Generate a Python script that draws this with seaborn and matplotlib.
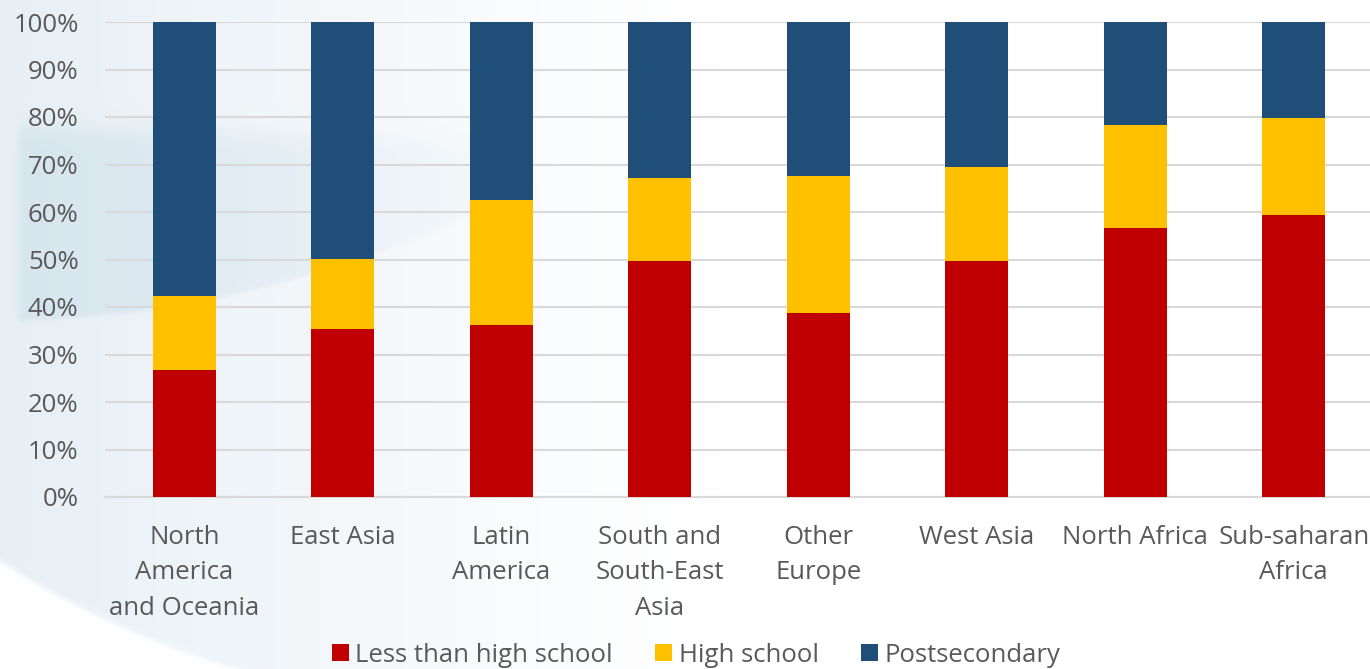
import numpy as np
import pandas as pd
import matplotlib
matplotlib.use("Agg")
import matplotlib.pyplot as plt
from matplotlib.patches import Patch
from matplotlib.ticker import FuncFormatter, MultipleLocator
import seaborn as sns

# Educational attainment shares by region of origin (%)
regions = [
    "North\nAmerica\nand Oceania",
    "East Asia",
    "Latin\nAmerica",
    "South and\nSouth-East\nAsia",
    "Other\nEurope",
    "West Asia",
    "North Africa",
    "Sub-saharan\nAfrica",
]
less_than_hs = [26.7, 35.4, 36.2, 49.7, 38.7, 49.7, 56.6, 59.4]
high_school = [15.6, 14.7, 26.3, 17.5, 28.9, 19.8, 21.7, 20.4]
postsecondary = [57.7, 49.9, 37.5, 32.8, 32.4, 30.5, 21.7, 20.2]

series_names = ["Less than high school", "High school", "Postsecondary"]
colors = ["#C00000", "#FFC000", "#1F4E79"]
text_color = "#595959"
FS = 18.5

df = pd.DataFrame({
    "region": regions,
    "less": less_than_hs,
    "hs": high_school,
    "post": postsecondary,
})
df["cum_less"] = df["less"]
df["cum_hs"] = df["less"] + df["hs"]
df["cum_post"] = df["less"] + df["hs"] + df["post"]

sns.set_theme(style="white")
plt.rcParams["font.family"] = ["Open Sans", "DejaVu Sans"]

W, H = 1370, 669
fig = plt.figure(figsize=(W / 100, H / 100), dpi=100)
fig.patch.set_facecolor("white")

# Soft decorative wash on the left side of the slide background
yy, xx = np.mgrid[0:H, 0:W].astype(float)
img = np.ones((H, W, 3))

def blend(img, rgb, alpha):
    c = np.array(rgb) / 255.0
    a = alpha[..., None]
    return img * (1 - a) + c * a

def soft(v, width):
    return 1 / (1 + np.exp(-v / width))

dist = np.sqrt((xx - 501) ** 2 + (yy + 225) ** 2)
wash_alpha = np.clip(1 - xx / 720, 0, 1) ** 1.2 * soft(932 - dist, 1.5)
img = blend(img, (231, 239, 245), wash_alpha)

y_top = 125 + 0.03 * xx
y_bot = 320 - 0.00048 * xx ** 2
band_alpha = (np.clip(1 - xx / 560, 0, 1) ** 1.1
              * soft(yy - y_top, 6) * soft(y_bot - yy, 1.5) * soft(xx - 18, 2))
img = blend(img, (214, 229, 238), band_alpha)

fig.figimage(img, xo=0, yo=0, origin="upper", zorder=-10)

ax = fig.add_axes([105 / W, 1 - 497 / H, (1373 - 105) / W, (497 - 22) / H])
ax.set_facecolor("none")

# Stacked bars drawn as cumulative totals, tallest first
for col, c in zip(["cum_post", "cum_hs", "cum_less"], colors[::-1]):
    sns.barplot(data=df, x="region", y=col, color=c, width=0.40,
                saturation=1, ax=ax, linewidth=0, zorder=3)

ax.set_xlim(-0.5, len(regions) - 0.5)
ax.set_ylim(0, 100)
ax.yaxis.set_major_locator(MultipleLocator(10))
ax.yaxis.set_major_formatter(FuncFormatter(lambda v, p: f"{v:.0f}%"))
ax.grid(axis="y", color="#d9d9d9", linewidth=1.5, zorder=0)
ax.set_axisbelow(True)
for s in ["top", "right", "left"]:
    ax.spines[s].set_visible(False)
ax.spines["bottom"].set_color("#d9d9d9")
ax.spines["bottom"].set_linewidth(1.5)
ax.set_xlabel("")
ax.set_ylabel("")
ax.tick_params(axis="both", length=0, labelsize=FS, colors=text_color)
ax.tick_params(axis="y", pad=19)
ax.tick_params(axis="x", pad=20)
for lbl in ax.get_xticklabels():
    lbl.set_linespacing(1.56)
    lbl.set_verticalalignment("top")

handles = [Patch(facecolor=c, edgecolor="none", label=n) for n, c in zip(series_names, colors)]
fig.legend(handles=handles, loc="center", bbox_to_anchor=(696 / W, 1 - 655 / H),
           ncol=3, frameon=False, fontsize=FS, handlelength=0.66, handleheight=0.66,
           handletextpad=0.25, columnspacing=1.65, labelcolor=text_color,
           borderpad=0.1)

fig.savefig("out.png", dpi=100, facecolor=fig.get_facecolor())
